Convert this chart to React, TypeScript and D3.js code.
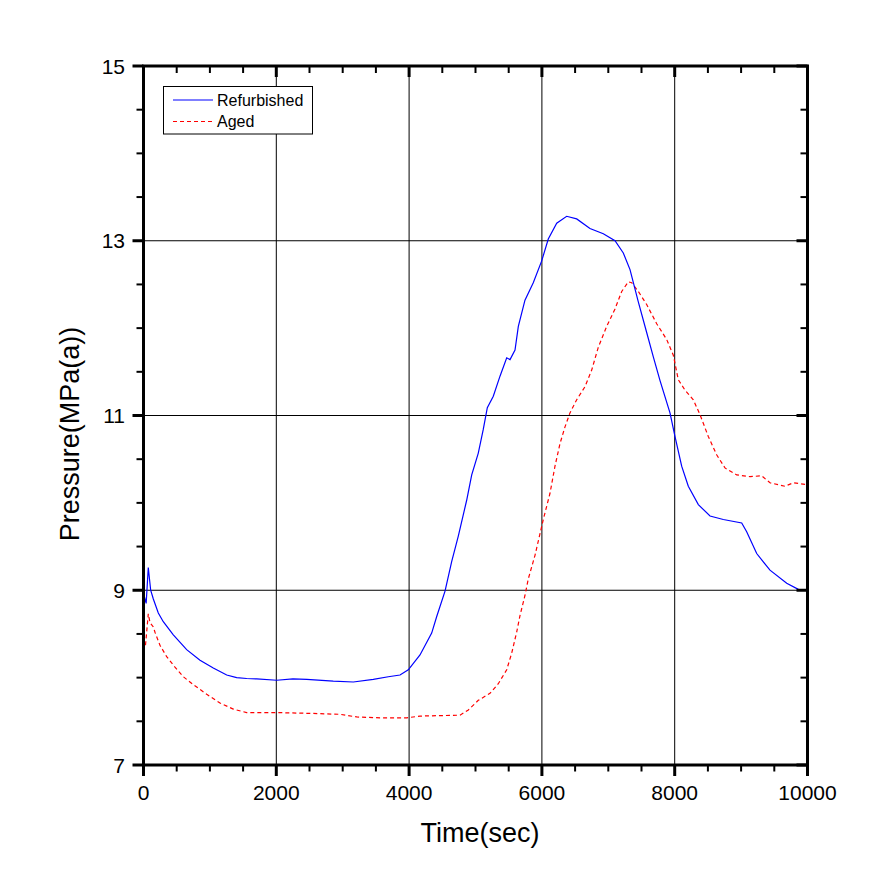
import React from "react";
import * as d3 from "d3";

const refTime = [15, 40, 72, 108, 148, 223, 298, 449, 650, 851, 1051, 1253, 1403, 1554, 1705, 2006, 2250, 2458, 2858, 3160, 3461, 3687, 3863, 3988, 4164, 4340, 4416, 4541, 4642, 4741, 4867, 4943, 5042, 5117, 5178, 5268, 5369, 5470, 5520, 5595, 5645, 5745, 5870, 5997, 6096, 6223, 6373, 6524, 6724, 6925, 7101, 7226, 7327, 7452, 7578, 7678, 7779, 7929, 8004, 8105, 8205, 8356, 8532, 8732, 9009, 9084, 9235, 9435, 9687, 9862];
const refPressure = [8.92, 8.85, 9.26, 9.0, 8.9, 8.74, 8.64, 8.49, 8.32, 8.2, 8.11, 8.03, 8.0, 7.99, 7.985, 7.97, 7.985, 7.98, 7.96, 7.95, 7.98, 8.01, 8.03, 8.09, 8.26, 8.51, 8.7, 8.99, 9.33, 9.62, 10.03, 10.32, 10.57, 10.84, 11.09, 11.22, 11.45, 11.66, 11.64, 11.75, 12.02, 12.32, 12.52, 12.77, 13.02, 13.2, 13.28, 13.25, 13.14, 13.08, 13.0, 12.86, 12.67, 12.3, 11.95, 11.67, 11.4, 11.03, 10.76, 10.42, 10.19, 9.98, 9.85, 9.81, 9.77, 9.67, 9.42, 9.23, 9.08, 9.01];

const agedTime = [30, 72, 98, 148, 173, 248, 349, 474, 600, 750, 952, 1152, 1352, 1554, 2006, 2557, 2959, 3211, 3562, 3964, 4164, 4767, 4892, 5042, 5218, 5343, 5470, 5545, 5620, 5670, 5745, 5795, 5896, 6021, 6122, 6197, 6273, 6348, 6423, 6524, 6649, 6750, 6849, 6976, 7101, 7202, 7302, 7352, 7452, 7578, 7729, 7879, 7979, 8054, 8155, 8280, 8381, 8506, 8632, 8757, 8934, 9134, 9310, 9435, 9661, 9786, 9987];
const agedPressure = [8.37, 8.73, 8.63, 8.58, 8.52, 8.37, 8.24, 8.12, 8.01, 7.92, 7.81, 7.71, 7.64, 7.6, 7.6, 7.59, 7.58, 7.55, 7.54, 7.54, 7.56, 7.57, 7.63, 7.74, 7.82, 7.93, 8.09, 8.28, 8.52, 8.71, 8.94, 9.13, 9.4, 9.81, 10.11, 10.42, 10.68, 10.87, 11.03, 11.18, 11.33, 11.52, 11.78, 12.02, 12.22, 12.42, 12.53, 12.52, 12.42, 12.27, 12.05, 11.87, 11.69, 11.41, 11.29, 11.18, 11.01, 10.76, 10.55, 10.4, 10.32, 10.3, 10.31, 10.23, 10.19, 10.23, 10.21];

const xMajorTicks = [0, 2000, 4000, 6000, 8000, 10000];
const yMajorTicks = [7, 9, 11, 13, 15];
const seriesNames = ["Refurbished", "Aged"];

const FONT = "'Liberation Sans', Arial, sans-serif";

export default function App() {
  const W = 885, H = 896;
  const left = 143.5, right = 807.5, top = 66, bottom = 765;
  const x = d3.scaleLinear().domain([0, 10000]).range([left, right]);
  const y = d3.scaleLinear().domain([7, 15]).range([bottom, top]);

  const xMinor = d3.range(0, 10001, 500).filter((v) => v % 2000 !== 0);
  const yMinor = d3.range(7, 15.01, 0.5).filter((v) => Math.abs(v % 2 - 1) > 1e-6);

  const line = d3.line<[number, number]>().x((d) => x(d[0])).y((d) => y(d[1]));
  const refPts = refTime.map((t, i) => [t, refPressure[i]] as [number, number]);
  const agedPts = agedTime.map((t, i) => [t, agedPressure[i]] as [number, number]);

  return (
    <svg width={W} height={H} style={{ position: "absolute", left: 0, top: 0, background: "#fff" }}>
      <defs>
        <clipPath id="plotclip">
          <rect x={left} y={top} width={right - left} height={bottom - top} />
        </clipPath>
      </defs>
      {/* grid */}
      {xMajorTicks.filter((v) => v > 0 && v < 10000).map((v) => (
        <line key={"gx" + v} x1={x(v)} x2={x(v)} y1={top} y2={bottom} stroke="#000" strokeWidth={1} />
      ))}
      {yMajorTicks.filter((v) => v > 7 && v < 15).map((v) => (
        <line key={"gy" + v} x1={left} x2={right} y1={y(v)} y2={y(v)} stroke="#000" strokeWidth={1} />
      ))}
      {/* curves */}
      <g clipPath="url(#plotclip)">
        <path d={line(agedPts) || ""} fill="none" stroke="#ff0000" strokeWidth={1.2} strokeDasharray="4,3" />
        <path d={line(refPts) || ""} fill="none" stroke="#0000ff" strokeWidth={1.2} />
      </g>
      {/* frame */}
      <rect x={left} y={top} width={right - left} height={bottom - top} fill="none" stroke="#000" strokeWidth={3} />
      {/* x ticks */}
      {xMajorTicks.map((v) => (
        <g key={"xt" + v}>
          <line x1={x(v)} x2={x(v)} y1={bottom} y2={bottom + 11} stroke="#000" strokeWidth={3} />
          <line x1={x(v)} x2={x(v)} y1={top} y2={top + 11} stroke="#000" strokeWidth={3} />
          <text x={x(v)} y={800} textAnchor="middle" fontFamily={FONT} fontSize={21}>{v}</text>
        </g>
      ))}
      {xMinor.map((v) => (
        <g key={"xm" + v}>
          <line x1={x(v)} x2={x(v)} y1={bottom} y2={bottom + 6.5} stroke="#000" strokeWidth={2} />
          <line x1={x(v)} x2={x(v)} y1={top} y2={top + 7} stroke="#000" strokeWidth={2} />
        </g>
      ))}
      {/* y ticks */}
      {yMajorTicks.map((v) => (
        <g key={"yt" + v}>
          <line x1={left - 11} x2={left} y1={y(v)} y2={y(v)} stroke="#000" strokeWidth={3} />
          <line x1={right - 11} x2={right} y1={y(v)} y2={y(v)} stroke="#000" strokeWidth={3} />
          <text x={125} y={y(v) + 7.5} textAnchor="end" fontFamily={FONT} fontSize={21}>{v}</text>
        </g>
      ))}
      {yMinor.map((v) => (
        <g key={"ym" + v}>
          <line x1={left - 7} x2={left} y1={y(v)} y2={y(v)} stroke="#000" strokeWidth={2} />
          <line x1={right - 7} x2={right} y1={y(v)} y2={y(v)} stroke="#000" strokeWidth={2} />
        </g>
      ))}
      {/* axis titles */}
      <text x={480} y={842} textAnchor="middle" fontFamily={FONT} fontSize={27}>Time(sec)</text>
      <text transform="translate(79,434) rotate(-90)" textAnchor="middle" fontFamily={FONT} fontSize={27}>Pressure(MPa(a))</text>
      {/* legend */}
      <rect x={163.5} y={86.5} width={149} height={47.5} fill="#fff" stroke="#000" strokeWidth={1} />
      <line x1={173} x2={213} y1={100} y2={100} stroke="#0000ff" strokeWidth={1.2} />
      <line x1={173} x2={213} y1={121.5} y2={121.5} stroke="#ff0000" strokeWidth={1.2} strokeDasharray="4,3" />
      <text x={217} y={105.5} fontFamily={FONT} fontSize={16}>{seriesNames[0]}</text>
      <text x={217} y={127} fontFamily={FONT} fontSize={16}>{seriesNames[1]}</text>
    </svg>
  );
}
